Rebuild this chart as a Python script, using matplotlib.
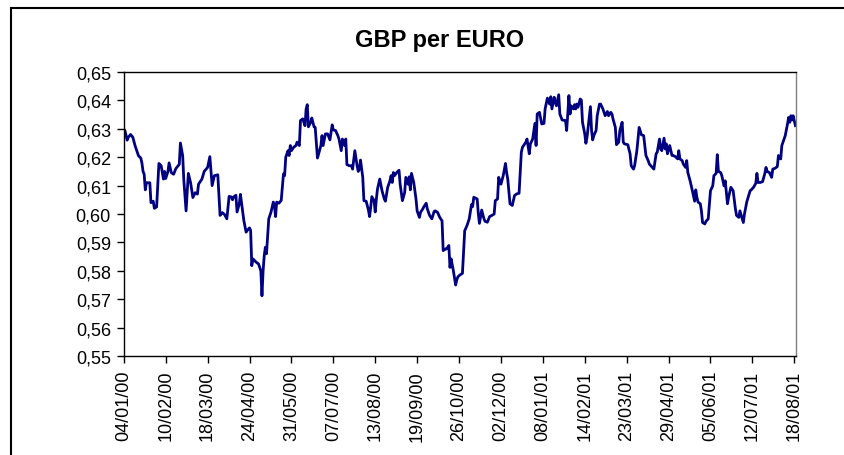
import numpy as np
import pandas as pd
import matplotlib
matplotlib.use("Agg")
import matplotlib.pyplot as plt
from matplotlib.patches import Rectangle
from matplotlib.ticker import FuncFormatter

plt.rcParams['font.family'] = ['Liberation Sans', 'DejaVu Sans']

# Days counted from 04/01/2000, and the GBP per EURO rate
start_date = pd.Timestamp('2000-01-04')
days = [0, 1, 3, 4, 6, 8, 10, 13, 15, 16, 17, 18, 19, 20, 23, 24, 26, 27, 29, 31,
        33, 35, 36, 37, 39, 40, 42, 44, 46, 49, 50, 52, 53, 55, 57, 59, 61, 63, 65, 66,
        69, 71, 74, 76, 78, 80, 83, 85, 87, 89, 91, 93, 95, 96,
        97, 99, 100, 102, 103, 105, 106, 108, 109, 111, 112, 113, 114, 117, 119, 121, 122, 123,
        124, 125, 126, 128, 130, 132, 133, 134, 135, 137, 139, 141, 142, 143, 145, 146, 147, 148,
        150, 152, 153, 155, 156, 158, 159, 160, 161, 162, 163, 165, 166, 168, 169, 171, 172, 174,
        175, 176, 178, 180, 182, 184, 185, 187, 189, 190, 192, 193, 195,
        196, 197, 199, 201, 202, 204, 206, 207, 208, 209, 211, 212, 214, 216, 217, 218, 219, 221,
        222, 223, 224, 226, 228, 230, 231, 233, 235, 236, 237, 238, 239, 241, 243, 244, 246, 248,
        249, 251, 252, 253, 254, 256, 258, 259, 261, 262, 264, 265, 267, 268, 270, 272, 274, 275,
        277, 279, 281, 282, 284, 285, 287, 288, 289, 291, 293,
        294, 295, 297, 299, 301, 303, 305, 307, 308, 309, 312, 313, 314, 316, 318, 319, 321, 323,
        325, 327, 328, 330, 331, 333, 335, 337, 338, 339, 341, 343, 345, 347, 349, 351, 352, 355,
        356, 358, 359, 361, 363, 364, 365, 367, 369, 371, 372, 374, 376, 377, 378, 380, 381, 382,
        384, 385, 387, 390, 391, 392,
        393, 394, 395, 397, 398, 399, 400, 401, 403, 404, 405, 407, 408, 409, 410, 412, 413, 414,
        415, 417, 418, 420, 421, 423, 425, 427, 428, 430, 431, 432, 434, 435, 437, 438, 440, 441,
        442, 445, 447, 448, 450, 451, 453, 455, 457, 459, 461, 463, 464, 466, 468, 470, 471, 473,
        474, 475, 477, 478, 479, 480, 482, 484, 485, 487, 489, 490, 491,
        493, 494, 496, 497, 498, 500, 502, 504, 505, 506, 507, 509, 510, 511, 513, 514, 516, 518,
        520, 521, 523, 524, 525, 527, 528, 530, 531, 533, 534, 536, 538, 540, 541, 543, 544, 546,
        547, 548, 550, 553, 554, 556, 558, 559, 560, 562, 564, 566, 567, 568, 570, 572, 573, 575,
        577, 578, 580, 581, 583, 584, 586, 587, 588, 589, 590, 591, 593]
rates = [0.6299, 0.6294, 0.6260, 0.6270, 0.6280, 0.6270, 0.6240, 0.6205, 0.6197, 0.6180,
         0.6150, 0.6140, 0.6085, 0.6110, 0.6110, 0.6040, 0.6045, 0.6020, 0.6025, 0.6178,
         0.6170, 0.6123, 0.6150, 0.6125, 0.6150, 0.6180, 0.6145, 0.6140, 0.6160, 0.6175,
         0.6250, 0.6205, 0.6120, 0.6011, 0.6143, 0.6110, 0.6058, 0.6075, 0.6070, 0.6105,
         0.6123, 0.6150, 0.6164, 0.6202, 0.6100, 0.6135, 0.6138, 0.5995, 0.6005, 0.5998,
         0.5983, 0.6062, 0.6060, 0.6050,
         0.6060, 0.6066, 0.6007, 0.6036, 0.6069, 0.6007, 0.5977, 0.5936, 0.5942, 0.5951,
         0.5942, 0.5818, 0.5842, 0.5830, 0.5824, 0.5800, 0.5712, 0.5800,
         0.5853, 0.5883, 0.5860, 0.5983, 0.6007, 0.6042, 0.6030, 0.5991, 0.6042, 0.6038,
         0.6048, 0.6141, 0.6135, 0.6200, 0.6223, 0.6206, 0.6241, 0.6223,
         0.6235, 0.6241, 0.6253, 0.6241, 0.6329, 0.6335, 0.6323, 0.6311, 0.6370, 0.6385,
         0.6307, 0.6323, 0.6338, 0.6307, 0.6305, 0.6197, 0.6211, 0.6241,
         0.6276, 0.6241, 0.6282, 0.6282, 0.6261, 0.6314, 0.6296, 0.6294, 0.6276, 0.6264,
         0.6223, 0.6264, 0.6241,
         0.6264, 0.6174, 0.6170, 0.6170, 0.6158, 0.6223, 0.6170, 0.6150, 0.6158, 0.6190,
         0.6129, 0.6047, 0.6045, 0.6014, 0.5991, 0.6024, 0.6061, 0.6047,
         0.6007, 0.6053, 0.6088, 0.6123, 0.6082, 0.6053, 0.6045, 0.6094, 0.6117, 0.6135,
         0.6111, 0.6146, 0.6135, 0.6146, 0.6154, 0.6105, 0.6047, 0.6076,
         0.6129, 0.6105, 0.6131, 0.6085, 0.6143, 0.6111, 0.6053, 0.6011, 0.5988, 0.6006,
         0.6018, 0.6026, 0.6038, 0.6018, 0.5995, 0.5983, 0.6009, 0.6011,
         0.6006, 0.5988, 0.5976, 0.5871, 0.5877, 0.5877, 0.5889, 0.5812, 0.5842, 0.5800,
         0.5750,
         0.5768, 0.5779, 0.5786, 0.5791, 0.5941, 0.5959, 0.5983, 0.6033, 0.6026, 0.6059,
         0.6053, 0.6002, 0.5967, 0.6014, 0.5983, 0.5974, 0.5971, 0.5991,
         0.5995, 0.6000, 0.6047, 0.6053, 0.6129, 0.6105, 0.6135, 0.6178, 0.6146, 0.6123,
         0.6036, 0.6030, 0.6065, 0.6071, 0.6073, 0.6218, 0.6235, 0.6253,
         0.6264, 0.6212, 0.6247, 0.6264, 0.6319, 0.6241, 0.6352, 0.6358, 0.6317, 0.6319,
         0.6370, 0.6408, 0.6387, 0.6413, 0.6370, 0.6411, 0.6393, 0.6381,
         0.6420, 0.6352, 0.6331, 0.6329, 0.6294, 0.6352,
         0.6417, 0.6352, 0.6381, 0.6370, 0.6385, 0.6370, 0.6387, 0.6376, 0.6405, 0.6401,
         0.6323, 0.6282, 0.6249, 0.6270, 0.6305, 0.6378, 0.6294, 0.6261,
         0.6276, 0.6294, 0.6346, 0.6387, 0.6387, 0.6370, 0.6346, 0.6361, 0.6346, 0.6358,
         0.6352, 0.6334, 0.6305, 0.6244, 0.6253, 0.6294, 0.6323, 0.6253,
         0.6247, 0.6244, 0.6212, 0.6170, 0.6158, 0.6170, 0.6223, 0.6305, 0.6279, 0.6276,
         0.6206, 0.6188, 0.6176, 0.6167, 0.6158, 0.6212, 0.6218, 0.6264,
         0.6229, 0.6223, 0.6267, 0.6229, 0.6247, 0.6212, 0.6241, 0.6206, 0.6206, 0.6202,
         0.6194, 0.6223, 0.6194,
         0.6188, 0.6176, 0.6164, 0.6188, 0.6146, 0.6117, 0.6082, 0.6045, 0.6085, 0.6059,
         0.6042, 0.6036, 0.6011, 0.5970, 0.5965, 0.5974, 0.5983, 0.6082,
         0.6099, 0.6135, 0.6143, 0.6209, 0.6150, 0.6146, 0.6135, 0.6099, 0.6117, 0.6036,
         0.6059, 0.6094, 0.6082, 0.6018, 0.5995, 0.5988, 0.6011, 0.5983,
         0.5970, 0.6000, 0.6042, 0.6082, 0.6085, 0.6094, 0.6108, 0.6143, 0.6111, 0.6111,
         0.6114, 0.6143, 0.6164, 0.6150, 0.6146, 0.6129, 0.6158, 0.6161,
         0.6167, 0.6206, 0.6194, 0.6241, 0.6264, 0.6276, 0.6317, 0.6340, 0.6323, 0.6346,
         0.6331, 0.6346, 0.6311]

dates = start_date + pd.to_timedelta(days, unit='D')
tick_dates = pd.date_range(start_date, periods=17, freq='37D')

W, H = 844, 456
fig = plt.figure(figsize=(W / 100, H / 100), dpi=100)

# chart area border (cut off at the right and bottom like the screenshot)
fig.add_artist(Rectangle((11 / W, -0.2), 2.0, 1.2 - 9 / H, transform=fig.transFigure,
                         fill=False, edgecolor='black', linewidth=1.5))

ax = fig.add_axes([123.5 / W, (H - 357) / H, (796 - 123.5) / W, (357 - 73) / H])
ax.plot(dates, rates, color='#000080', linewidth=2.0)

ax.set_ylim(0.55, 0.65)
ax.set_yticks(np.arange(0.55, 0.6501, 0.01))
ax.yaxis.set_major_formatter(FuncFormatter(lambda v, p: f"{v:.2f}".replace('.', ',')))
ax.set_xlim(start_date - pd.Timedelta(hours=6), start_date + pd.Timedelta(days=593.5))
ax.set_xticks(tick_dates)
ax.set_xticklabels([d.strftime('%d/%m/%y') for d in tick_dates], rotation=90)

ax.tick_params(axis='both', direction='out', length=5, width=1, labelsize=13, color='black')
ax.tick_params(axis='y', pad=4)
ax.tick_params(axis='x', pad=5)
for side in ['left', 'bottom', 'top']:
    ax.spines[side].set_color('black')
    ax.spines[side].set_linewidth(1)
ax.spines['right'].set_color('#808080')
ax.spines['right'].set_linewidth(1)

fig.text(440 / W, 1 - 40 / H, 'GBP per EURO', ha='center', va='center',
         fontsize=17, fontweight='bold')

fig.savefig('out.png', dpi=100)
